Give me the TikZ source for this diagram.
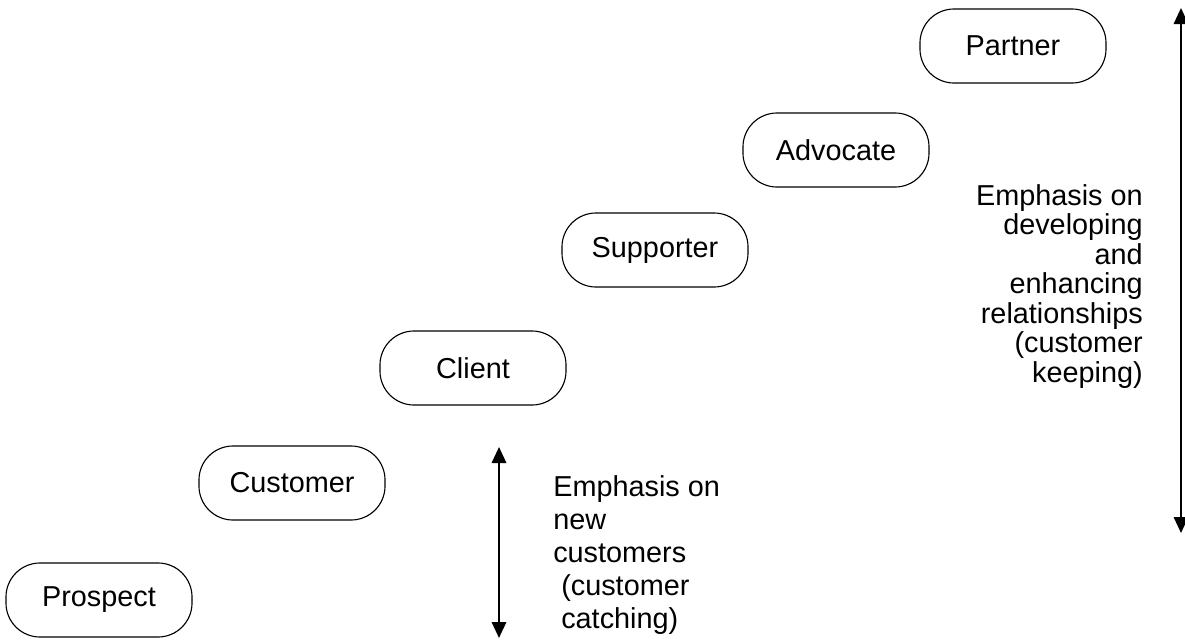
\documentclass[tikz,border=0pt]{standalone}
\usepackage{fontspec}
\setmainfont{Liberation Sans}
\usetikzlibrary{arrows.meta}

\begin{document}
\begin{tikzpicture}[
    x=0.025cm, y=-0.025cm,
    font=\fontsize{20.5}{23.5}\selectfont,
    >={Triangle[length=0.4cm,width=0.36cm]},
    stagebox/.style={draw, thick, rounded corners=0.85cm, minimum width=4.65cm, minimum height=1.85cm, align=center},
    spanarrow/.style={<->, line width=1.5pt},
    notetext/.style={inner sep=0pt}
]
\useasboundingbox (0,0) rectangle (1185,639);

% stages of the ladder
\node[stagebox] (prospect)  at (99,600)  {Prospect};
\node[stagebox] (customer)  at (292,483) {Customer};
\node[stagebox] (client)    at (473,368) {Client};
\node[stagebox] (supporter) at (655,250) {Supporter};
\node[stagebox] (advocate)  at (836,150) {Advocate};
\node[stagebox] (partner)   at (1013,46) {Partner};

% left span: customer catching
\coordinate (catch_top) at (499,447);
\coordinate (catch_bot) at (499,638);
\draw[spanarrow] (catch_top) -- (catch_bot);
\node[notetext, align=left, anchor=north west] (catchnote) at (553,475) {Emphasis on\\
new\\
customers\\
\ (customer\\
\ catching)};

% right span: customer keeping
\coordinate (keep_top) at (1181,8);
\coordinate (keep_bot) at (1181,533);
\draw[spanarrow] (keep_top) -- (keep_bot);
\node[notetext, align=right, anchor=north east, font=\fontsize{20.5}{21}\selectfont] (keepnote) at (1143,184) {Emphasis on\\
developing\\
and\\
enhancing\\
relationships\\
(customer\\
keeping)};

\end{tikzpicture}
\end{document}
